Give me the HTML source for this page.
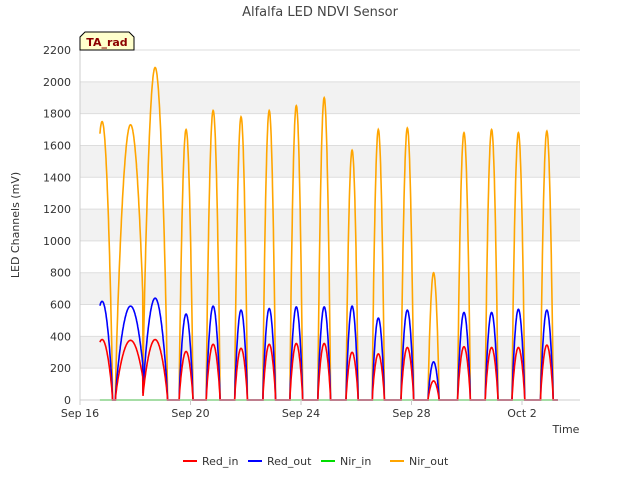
<!DOCTYPE html>
<html><head><meta charset="utf-8"><style>
body{margin:0;background:#fff;font-family:"Liberation Sans","DejaVu Sans",sans-serif}
svg text{font-family:"DejaVu Sans","Liberation Sans",sans-serif}
</style></head><body>
<svg id="chart" width="640" height="480" xmlns="http://www.w3.org/2000/svg">
<rect width="640" height="480" fill="#fff"/>
<text x="320" y="16" text-anchor="middle" font-size="13" fill="#444">Alfalfa LED NDVI Sensor</text>
<g id="grid"></g>
<g id="series"></g>
<g id="axes"></g>
<text x="19" y="225" transform="rotate(-90 19 225)" text-anchor="middle" font-size="11" fill="#333">LED Channels (mV)</text>
<text x="566" y="433" text-anchor="middle" font-size="11" fill="#333">Time</text>
<g>
<path d="M80,50 L80,37 L85,32 L129,32 L134,37 L134,50 Z" fill="#ffffcc" stroke="#000" stroke-width="1"/>
<text x="107" y="46" text-anchor="middle" font-size="11" font-weight="bold" fill="#8b0000">TA_rad</text>
</g>
<g id="legend"></g>
</svg>
<script>
const yTicks=[0,200,400,600,800,1000,1200,1400,1600,1800,2000,2200];
const xTickDays=[0,4,8,12,16];
const xTickLabels=["Sep 16","Sep 20","Sep 24","Sep 28","Oct 2"];
const peakCenters=[0.8,1.83,2.72,3.84,4.82,5.83,6.85,7.83,8.84,9.85,10.8,11.85,12.8,13.9,14.9,15.87,16.9];
const halfWidths=[0.38,0.55,0.45,0.25,0.25,0.23,0.23,0.23,0.23,0.22,0.22,0.23,0.2,0.23,0.23,0.23,0.23];
const nirOutPeaks=[1750,1730,2090,1700,1820,1780,1820,1850,1900,1570,1700,1710,800,1680,1700,1680,1690];
const redOutPeaks=[620,590,640,540,590,565,575,585,585,590,515,565,240,550,550,570,565];
const redInPeaks=[380,375,380,305,350,325,350,355,355,300,290,330,120,335,330,330,345];
const nirInPeaks=[0,0,0,0,0,0,0,0,0,0,0,0,0,0,0,0,0];
const dataStart=0.72, dataEnd=17.3;
const X0=80,X1=580,Y0=400,Y1=50,DMAX=18.1,VMAX=2200;
const sx=d=>X0+(d/DMAX)*(X1-X0);
const sy=v=>Y0-(v/VMAX)*(Y0-Y1);
const NS="http://www.w3.org/2000/svg";
function mk(t,a,p){const e=document.createElementNS(NS,t);for(const k in a)e.setAttribute(k,a[k]);p.appendChild(e);return e;}
const grid=document.getElementById('grid');
for(let i=0;i<yTicks.length-1;i++){
 if(i%2==1){const r=mk('rect',{x:X0,y:sy(yTicks[i+1]),width:X1-X0,height:sy(yTicks[i])-sy(yTicks[i+1]),fill:'#f2f2f2'},grid);
 }
}
yTicks.forEach(v=>{const l=mk('line',{x1:X0,x2:X1,y1:sy(v),y2:sy(v),stroke:'#ddd','stroke-width':1},grid);
 });
const axes=document.getElementById('axes');
mk('line',{x1:X0,x2:X0,y1:Y1,y2:Y0,stroke:'#ccc'},axes);
mk('line',{x1:X0,x2:X1,y1:Y0,y2:Y0,stroke:'#ccc'},axes);
yTicks.forEach(v=>{const t=mk('text',{x:X0-9,y:sy(v)+4,'text-anchor':'end','font-size':11,fill:'#333'},axes);t.textContent=v;
 });
xTickDays.forEach((d,i)=>{mk('line',{x1:sx(d),x2:sx(d),y1:Y0,y2:Y0+5,stroke:'#ccc'},axes);
 const t=mk('text',{x:sx(d),y:Y0+17,'text-anchor':'middle','font-size':11,fill:'#333'},axes);t.textContent=xTickLabels[i];
 });
function series(peaks){
 const pts=[];
 for(let t=dataStart;t<=dataEnd;t+=0.01){
  let v=0;
  for(let i=0;i<peakCenters.length;i++){const dd=Math.abs(t-peakCenters[i]);
   if(dd<halfWidths[i]){v=peaks[i]*Math.pow(Math.cos(Math.PI/2*dd/halfWidths[i]),0.8);}}
  pts.push(sx(t).toFixed(1)+','+sy(v).toFixed(1));
 }
 return pts.join(' ');
}
const sg=document.getElementById('series');
[['nir-in-line',nirInPeaks,'#00dd00'],['nir-out-line',nirOutPeaks,'#ffa500'],['red-out-line',redOutPeaks,'#0000ff'],['red-in-line',redInPeaks,'#ff0000']].forEach(s=>{
 const p=mk('polyline',{points:series(s[1]),fill:'none',stroke:s[2],'stroke-width':1.6},sg);
 });
const lg=document.getElementById('legend');
[['Red_in','#ff0000',183],['Red_out','#0000ff',248],['Nir_in','#00dd00',321],['Nir_out','#ffa500',390]].forEach(e=>{
 const g=mk('g',{},lg);
 mk('line',{x1:e[2],x2:e[2]+14,y1:461,y2:461,stroke:e[1],'stroke-width':2},g);
 const t=mk('text',{x:e[2]+19,y:465,'font-size':11,fill:'#333'},g);t.textContent=e[0];});
</script>
</body></html>
